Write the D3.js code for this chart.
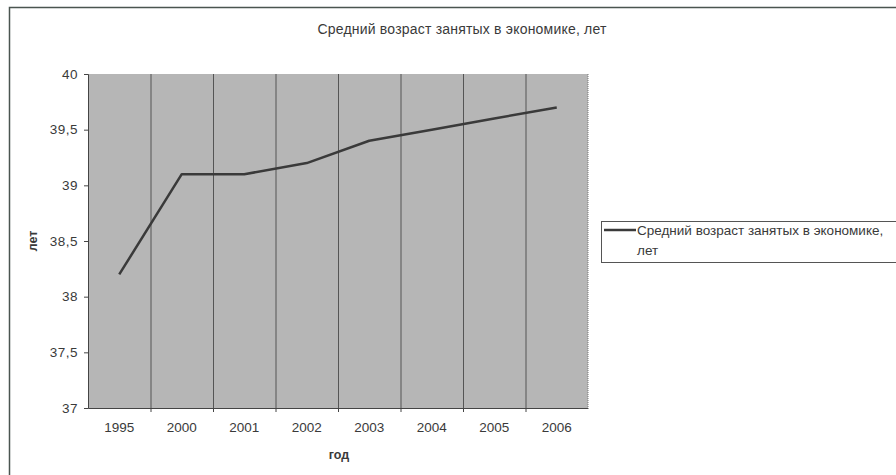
<!DOCTYPE html>
<html>
<head>
<meta charset="utf-8">
<script src="https://cdn.jsdelivr.net/npm/d3@7"></script>
<style>
  body { margin: 0; background: #fff; }
  svg { display: block; font-family: "Liberation Sans", Arial, sans-serif; }
</style>
</head>
<body>
<div class="wrapper"></div>
<script>
const years = ["1995", "2000", "2001", "2002", "2003", "2004", "2005", "2006"];
const ages = [38.2, 39.1, 39.1, 39.2, 39.4, 39.5, 39.6, 39.7];
const yTicks = [37, 37.5, 38, 38.5, 39, 39.5, 40];
const title = "Средний возраст занятых в экономике, лет";
const legendLines = ["Средний возраст занятых в экономике,", "лет"];

const width = 896, height = 475;
const plot = { left: 88, right: 588, top: 74, bottom: 408 };

const svg = d3.select(".wrapper")
  .append("svg")
  .attr("width", width)
  .attr("height", height);

// outer chart frame (runs off the right and bottom)
svg.append("path")
  .attr("d", "M9.5,480 L9.5,7.5 L900,7.5")
  .attr("fill", "none")
  .attr("stroke", "#4a5550")
  .attr("stroke-width", 1.5);

svg.append("text")
  .attr("x", 462)
  .attr("y", 34)
  .attr("text-anchor", "middle")
  .style("font-size", "14px")
  .style("letter-spacing", "0.2px")
  .style("fill", "#3a3a3a")
  .text(title);

const x = d3.scaleBand()
  .domain(years)
  .range([plot.left, plot.right]);

const y = d3.scaleLinear()
  .domain([37, 40])
  .range([plot.bottom, plot.top]);

// plot background
svg.append("rect")
  .attr("x", plot.left)
  .attr("y", plot.top)
  .attr("width", plot.right - plot.left)
  .attr("height", plot.bottom - plot.top)
  .style("fill", "#b6b6b6");

// vertical grid between categories
svg.selectAll("line.vgrid")
  .data(years.slice(1))
  .enter()
  .append("line")
  .attr("class", "vgrid")
  .attr("x1", d => x(d) + 0.5)
  .attr("x2", d => x(d) + 0.5)
  .attr("y1", plot.top)
  .attr("y2", plot.bottom)
  .attr("stroke", "#555")
  .attr("stroke-width", 1);

// right border of the plot, dotted
svg.append("line")
  .attr("x1", plot.right)
  .attr("x2", plot.right)
  .attr("y1", plot.top)
  .attr("y2", plot.bottom)
  .attr("stroke", "#777")
  .attr("stroke-dasharray", "1,1");

// y axis
const yAxis = svg.append("g")
  .attr("transform", `translate(${plot.left},0)`)
  .call(d3.axisLeft(y)
    .tickValues(yTicks)
    .tickSize(4)
    .tickPadding(6)
    .tickFormat(d => String(d).replace(".", ",")));
yAxis.select(".domain").attr("stroke", "#444");
yAxis.selectAll(".tick line").attr("stroke", "#444");
yAxis.selectAll("text")
  .style("font-size", "13.5px")
  .style("letter-spacing", "0.5px")
  .style("font-family", "Liberation Sans, Arial, sans-serif")
  .style("fill", "#3a3a3a");

// x axis
const xAxis = svg.append("g")
  .attr("transform", `translate(0,${plot.bottom})`)
  .call(d3.axisBottom(x)
    .tickSize(0)
    .tickPadding(14));
xAxis.select(".domain").attr("stroke", "#444");
xAxis.selectAll("text")
  .style("font-size", "13.5px")
  .style("font-family", "Liberation Sans, Arial, sans-serif")
  .style("fill", "#3a3a3a");
svg.selectAll("line.xtick")
  .data(years.slice(1))
  .enter()
  .append("line")
  .attr("class", "xtick")
  .attr("x1", d => x(d) + 0.5)
  .attr("x2", d => x(d) + 0.5)
  .attr("y1", plot.bottom)
  .attr("y2", plot.bottom + 4)
  .attr("stroke", "#444");

// axis titles
svg.append("text")
  .attr("transform", "translate(37,241) rotate(-90)")
  .attr("text-anchor", "middle")
  .style("font-size", "12.5px")
  .style("font-weight", "bold")
  .style("fill", "#3a3a3a")
  .text("лет");

svg.append("text")
  .attr("x", 339)
  .attr("y", 459)
  .attr("text-anchor", "middle")
  .style("font-size", "12.5px")
  .style("font-weight", "bold")
  .style("fill", "#3a3a3a")
  .text("год");

// series line
const line = d3.line()
  .x((d, i) => x(years[i]) + x.bandwidth() / 2)
  .y(d => y(d));

svg.append("path")
  .datum(ages)
  .attr("d", line)
  .attr("fill", "none")
  .attr("stroke", "#3a3a3a")
  .attr("stroke-width", 2.5)
  .attr("stroke-linejoin", "round");

// legend
const legend = svg.append("g");
legend.append("rect")
  .attr("x", 601.5)
  .attr("y", 221.5)
  .attr("width", 310)
  .attr("height", 41)
  .attr("fill", "#fff")
  .attr("stroke", "#555");
legend.append("line")
  .attr("x1", 604)
  .attr("x2", 636)
  .attr("y1", 230)
  .attr("y2", 230)
  .attr("stroke", "#3a3a3a")
  .attr("stroke-width", 2.5);
legend.selectAll("text")
  .data(legendLines)
  .enter()
  .append("text")
  .attr("x", 637)
  .attr("y", (d, i) => 235 + i * 20)
  .style("font-size", "13.5px")
  .style("fill", "#3a3a3a")
  .text(d => d);
</script>
</body>
</html>
